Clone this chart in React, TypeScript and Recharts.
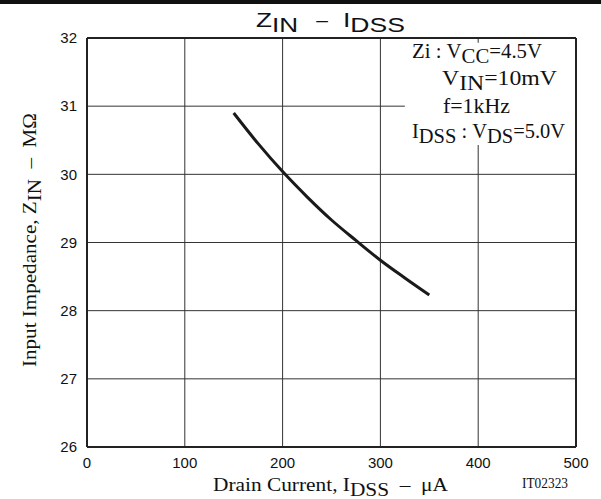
import React from 'react';
import { LineChart, Line, XAxis, YAxis, CartesianGrid, ReferenceLine, ReferenceArea } from 'recharts';

const currentUA = [150, 175, 200, 225, 250, 275, 300, 325, 350];
const impedanceMOhm = [30.9, 30.45, 30.04, 29.67, 29.33, 29.03, 28.74, 28.48, 28.23];
const xTicks = [0, 100, 200, 300, 400, 500];
const yTicks = [26, 27, 28, 29, 30, 31, 32];

const data = currentUA.map((x, i) => ({ x, z: impedanceMOhm[i] }));

const SERIF = '"Liberation Serif", "Times New Roman", serif';
const SANS = '"Liberation Sans", Arial, sans-serif';
const SP = '\u00a0';
const ADJ = 'spacingAndGlyphs';

export default function App() {
  return (
    <div style={{ position: 'absolute', left: 0, top: 0, width: 601, height: 499, background: '#fff' }}>
      <LineChart width={601} height={499} data={data} margin={{ top: 38, right: 25, bottom: 22, left: 27 }}>
        <CartesianGrid stroke="#333" strokeWidth={1} />
        <XAxis
          dataKey="x"
          type="number"
          domain={[0, 500]}
          ticks={xTicks}
          axisLine={false}
          tickLine={false}
          tickMargin={4}
          height={30}
          tick={{ fill: '#111', fontSize: 15, fontFamily: SANS }}
        />
        <YAxis
          type="number"
          domain={[26, 32]}
          ticks={yTicks}
          axisLine={false}
          tickLine={false}
          tickMargin={4}
          width={60}
          tick={{ fill: '#111', fontSize: 15, fontFamily: SANS }}
        />
        <ReferenceArea x1={325} x2={500} y1={30.43} y2={31.93} fill="#fff" fillOpacity={1} stroke="none" />
        <ReferenceLine x={0} stroke="#222" strokeWidth={2} />
        <ReferenceLine x={500} stroke="#222" strokeWidth={2} />
        <ReferenceLine y={26} stroke="#222" strokeWidth={2} />
        <ReferenceLine y={32} stroke="#222" strokeWidth={2} />
        <Line
          type="monotone"
          dataKey="z"
          stroke="#1a1a1a"
          strokeWidth={3}
          dot={false}
          isAnimationActive={false}
        />
      </LineChart>
      <svg width={601} height={499} style={{ position: 'absolute', left: 0, top: 0, pointerEvents: 'none' }}>
        <rect x={0} y={0} width={601} height={4} fill="#111" />
        <g fontFamily={SANS} fontSize={21} fill="#111">
          <text x={256} y={27} textLength={42} lengthAdjust={ADJ}>
            Z<tspan dy={5}>IN</tspan>
          </text>
          <text x={322} y={27} textAnchor="middle">–</text>
          <text x={343} y={27} textLength={62} lengthAdjust={ADJ}>
            I<tspan dy={5}>DSS</tspan>
          </text>
        </g>
        <g fontFamily={SERIF} fontSize={20} fill="#111">
          <text x={412} y={58} textLength={130} lengthAdjust={ADJ}>
            {'Zi' + SP + ':' + SP + 'V'}<tspan dy={5}>CC</tspan><tspan dy={-5}>=4.5V</tspan>
          </text>
          <text x={442} y={85} textLength={115} lengthAdjust={ADJ}>
            V<tspan dy={5}>IN</tspan><tspan dy={-5}>=10mV</tspan>
          </text>
          <text x={443} y={113} textLength={67} lengthAdjust={ADJ}>f=1kHz</text>
          <text x={412} y={138} textLength={153} lengthAdjust={ADJ}>
            I<tspan dy={5}>DSS</tspan><tspan dy={-5}>{SP + ':' + SP + 'V'}</tspan><tspan dy={5}>DS</tspan><tspan dy={-5}>=5.0V</tspan>
          </text>
        </g>
        <text x={213} y={491} fontFamily={SERIF} fontSize={19} fill="#111" textLength={235} lengthAdjust={ADJ}>
          {'Drain Current,' + SP + 'I'}<tspan dy={5}>DSS</tspan><tspan dy={-5}>{SP + SP + '–' + SP + SP + 'μA'}</tspan>
        </text>
        <text x={522} y={488} fontFamily={SERIF} fontSize={14} fill="#111" textLength={46} lengthAdjust={ADJ}>IT02323</text>
        <text
          x={0}
          y={0}
          transform="translate(36,240) rotate(-90)"
          textAnchor="middle"
          fontFamily={SERIF}
          fontSize={19}
          fill="#111"
          textLength={254}
          lengthAdjust={ADJ}
        >
          {'Input Impedance, Z'}<tspan dy={5}>IN</tspan><tspan dy={-5}>{SP + SP + '–' + SP + SP + 'MΩ'}</tspan>
        </text>
      </svg>
    </div>
  );
}
